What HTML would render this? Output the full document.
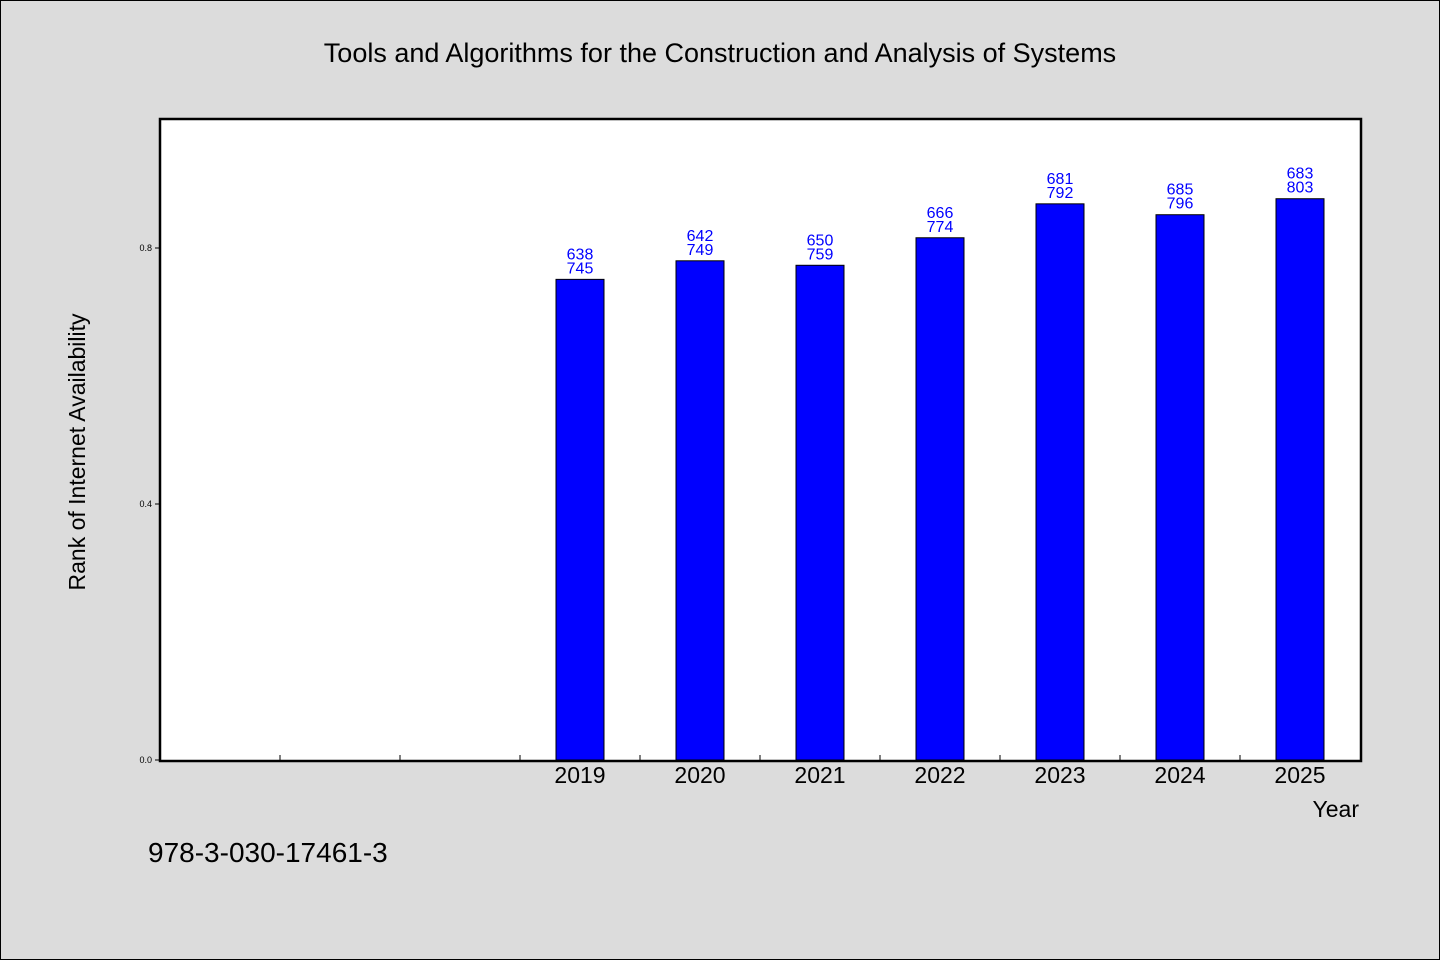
<!DOCTYPE html>
<html><head><meta charset="utf-8"><style>
html,body{margin:0;padding:0;background:#dcdcdc}
svg{display:block;font-family:"WenQuanYi Zen Hei","Liberation Sans",sans-serif}
</style></head><body>
<svg id="chart" width="1440" height="960" xmlns="http://www.w3.org/2000/svg">
<rect x="0.5" y="0.5" width="1439" height="959" fill="#dcdcdc" stroke="#000"/>
<text x="720" y="62" text-anchor="middle" font-size="27">Tools and Algorithms for the Construction and Analysis of Systems</text>
<rect x="160" y="119" width="1201" height="642" fill="#fff"/>
<g id="marks"></g>
<rect x="160" y="119" width="1201" height="642" fill="none" stroke="#000" stroke-width="2.5"/>
<text transform="translate(85,452) rotate(-90)" text-anchor="middle" font-size="23">Rank of Internet Availability</text>
<text x="1359" y="817" text-anchor="end" font-size="23">Year</text>
<text x="148" y="862" font-size="28">978-3-030-17461-3</text>
</svg>
<script>
const years = ["2019","2020","2021","2022","2023","2024","2025"];
const values = [0.751, 0.780, 0.773, 0.816, 0.869, 0.852, 0.877];
const labelTop = ["638","642","650","666","681","685","683"];
const labelBottom = ["745","749","759","774","792","796","803"];
const yTicks = [0.0, 0.4, 0.8];
const ns="http://www.w3.org/2000/svg";
const g=document.getElementById('marks');
const x0=160, slotW=120, firstSlot=3, yBase=760, yScale=640;
const xs=i=>x0+slotW*(firstSlot+i)+slotW/2;
const ys=v=>yBase-v*yScale;
function mk(tag,attrs){const e=document.createElementNS(ns,tag);for(const k in attrs)e.setAttribute(k,attrs[k]);g.appendChild(e);return e;}
for(let k=1;k<10;k++){const t=mk('line',{x1:x0+slotW*k,x2:x0+slotW*k,y1:760,y2:755,stroke:'#000'});

}
yTicks.forEach(v=>{const t=mk('line',{x1:155,x2:160,y1:ys(v),y2:ys(v),stroke:'#000'});


const l=mk('text',{x:152,y:ys(v)+3,'text-anchor':'end','font-size':9});l.textContent=v.toFixed(1);

});
years.forEach((y,i)=>{const cx=xs(i);const top=ys(values[i]);
const b=mk('rect',{x:cx-24,y:top,width:48,height:yBase-top,fill:'#0000ff',stroke:'#000','stroke-width':1});


const t1=mk('text',{x:cx,y:top-20,'text-anchor':'middle','font-size':16,fill:'#0000ff'});t1.textContent=labelTop[i];


const t2=mk('text',{x:cx,y:top-6,'text-anchor':'middle','font-size':16,fill:'#0000ff'});t2.textContent=labelBottom[i];


const xl=mk('text',{x:cx,y:783,'text-anchor':'middle','font-size':23});xl.textContent=y;

});
</script>
</body></html>
